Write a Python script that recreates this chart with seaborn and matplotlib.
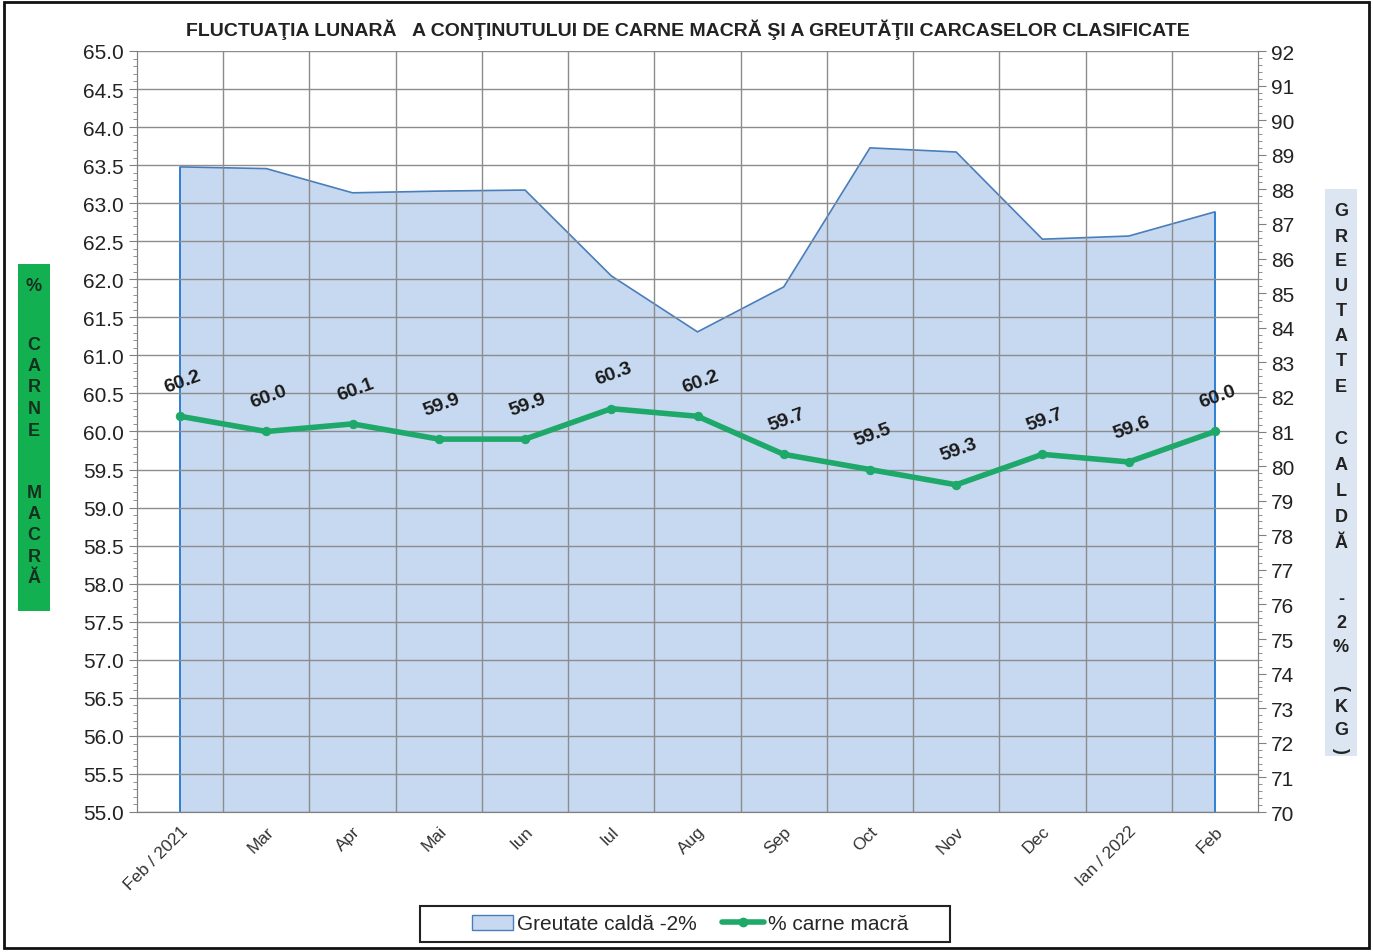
import seaborn as sns
import matplotlib.pyplot as plt
import pandas as pd
import numpy as np
from matplotlib.ticker import MultipleLocator, FixedLocator
from matplotlib.patches import Patch, Rectangle
from matplotlib.lines import Line2D

sns.set_style("white")
plt.rcParams['font.family'] = ['Liberation Sans', 'DejaVu Sans']

# data
months = ["Feb / 2021", "Mar", "Apr", "Mai", "Iun", "Iul", "Aug", "Sep",
          "Oct", "Nov", "Dec", "Ian / 2022", "Feb"]
carne_macra = [60.2, 60.0, 60.1, 59.9, 59.9, 60.3, 60.2, 59.7, 59.5, 59.3, 59.7, 59.6, 60.0]
greutate = [88.65, 88.6, 87.9, 87.95, 87.98, 85.5, 83.88, 85.18, 89.2, 89.08, 86.56, 86.65, 87.35]

df = pd.DataFrame({"luna": months, "pos": np.arange(len(months)),
                   "carne": carne_macra, "greutate": greutate})

W, H = 1373, 953
fig = plt.figure(figsize=(W / 100, H / 100), dpi=100)
ax = fig.add_axes([137 / W, 1 - 813 / H, (1258 - 137) / W, (813 - 52) / H])
ax2 = ax.twinx()

# area on the right axis
ax2.fill_between(df["pos"], 70, df["greutate"], facecolor="#C6D9F0",
                 edgecolor="none", zorder=1)
ax2.plot(df["pos"], df["greutate"], color="#4A7EBB", lw=1.2, zorder=2)
ax2.vlines([df["pos"].iloc[0], df["pos"].iloc[-1]], 70,
           [df["greutate"].iloc[0], df["greutate"].iloc[-1]],
           color="#1F77D0", lw=1.3, zorder=2)
ax2.set_ylim(70, 92)
ax2.yaxis.set_major_locator(MultipleLocator(1))
ax2.yaxis.set_minor_locator(MultipleLocator(0.2))
ax2.tick_params(axis="y", which="major", labelsize=15, length=6, color="#808080",
                labelcolor="#222222")
ax2.tick_params(axis="y", which="minor", length=3, color="#808080")
ax2.set_ylabel("")

# line on the left axis
ax.set_zorder(ax2.get_zorder() + 1)
ax.patch.set_visible(False)
sns.lineplot(data=df, x="pos", y="carne", ax=ax, color="#1EA86A", lw=4,
             marker="o", markersize=6, markeredgecolor="#1EA86A", zorder=5)
for p, v in zip(df["pos"], df["carne"]):
    ax.text(p + 0.03, v + 0.27, f"{v:.1f}", rotation=20, ha="center", va="bottom",
            fontsize=14, fontweight="bold", color="#1a1a1a", zorder=6)

ax.set_xlim(-0.5, len(months) - 0.5)
ax.set_ylim(55, 65)
ax.yaxis.set_major_locator(MultipleLocator(0.5))
ax.yaxis.set_minor_locator(MultipleLocator(0.1))
ax.yaxis.set_major_formatter(plt.FormatStrFormatter("%.1f"))
ax.set_xticks(df["pos"])
ax.set_xticklabels(months, rotation=45, ha="right", rotation_mode="anchor",
                   fontsize=12.5, color="#333333")
ax.xaxis.set_minor_locator(FixedLocator(np.arange(0.5, len(months) - 0.5, 1)))
ax.tick_params(axis="x", which="major", length=0, pad=8)
ax.tick_params(axis="x", which="minor", length=6, color="#808080")
ax.tick_params(axis="y", which="major", labelsize=15, length=6, color="#808080",
               labelcolor="#222222")
ax.tick_params(axis="y", which="minor", length=3, color="#808080")
ax.set_xlabel("")
ax.set_ylabel("")

ax.grid(True, axis="y", which="major", color="#8c8c8c", lw=1.0)
ax.grid(True, axis="x", which="minor", color="#8c8c8c", lw=1.0)
ax.grid(False, axis="x", which="major")
for s in list(ax.spines.values()) + list(ax2.spines.values()):
    s.set_color("#808080")
ax.spines["top"].set_visible(False)
ax2.spines["top"].set_visible(False)

# title
fig.text(688 / W, 1 - 30 / H,
         "FLUCTUAŢIA LUNARĂ   A CONŢINUTULUI DE CARNE MACRĂ ŞI A GREUTĂŢII CARCASELOR CLASIFICATE",
         ha="center", va="center", fontsize=14, fontweight="bold", color="#222222")

# left axis title (green box, stacked letters)
fig.patches.append(Rectangle((18 / W, 1 - 612 / H), 32 / W, (612 - 265) / H,
                             transform=fig.transFigure, facecolor="#12B050",
                             edgecolor="none"))
for word, start in [("%", 287), ("CARNE", 345), ("MACRĂ", 493)]:
    for i, ch in enumerate(word):
        fig.text(34 / W, 1 - (start + i * 21.5) / H, ch, ha="center", va="center",
                 fontsize=13, fontweight="bold", color="#15301f")

# right axis title (light blue box, stacked letters)
fig.patches.append(Rectangle((1325 / W, 1 - 757 / H), 32 / W, (757 - 190) / H,
                             transform=fig.transFigure, facecolor="#DCE6F2",
                             edgecolor="none"))
for word, start, step in [("GREUTATE", 212, 25), ("CALDĂ", 440, 26), ("-2%", 600, 24)]:
    for i, ch in enumerate(word):
        fig.text(1341 / W, 1 - (start + i * step) / H, ch, ha="center", va="center",
                 fontsize=13, fontweight="bold", color="#222222")
for ch, yy in [("(", 688), ("K", 707), ("G", 731), (")", 750)]:
    rot = 270 if ch in "()" else 0
    fig.text(1341 / W, 1 - yy / H, ch, ha="center", va="center", fontsize=13,
             fontweight="bold", color="#222222", rotation=rot)

# legend
handles = [Patch(facecolor="#C6D9F0", edgecolor="#4A7EBB", label="Greutate caldă -2%"),
           Line2D([0], [0], color="#1EA86A", lw=4, marker="o", markersize=6,
                  label="% carne macră")]
fig.legend(handles=handles, loc="center", bbox_to_anchor=(690 / W, 1 - 925 / H),
           ncol=2, fontsize=15, frameon=False, handlelength=2.0,
           handletextpad=0.2, columnspacing=1.2)
fig.patches.append(Rectangle((420 / W, 1 - 943 / H), 530 / W, 36 / H,
                             transform=fig.transFigure, facecolor="none",
                             edgecolor="#222222", lw=1.5))

# outer border
fig.patches.append(Rectangle((0.003, 0.004), 0.994, 0.993, transform=fig.transFigure,
                             facecolor="none", edgecolor="#111111", lw=2))

fig.savefig("out.png", dpi=100)
